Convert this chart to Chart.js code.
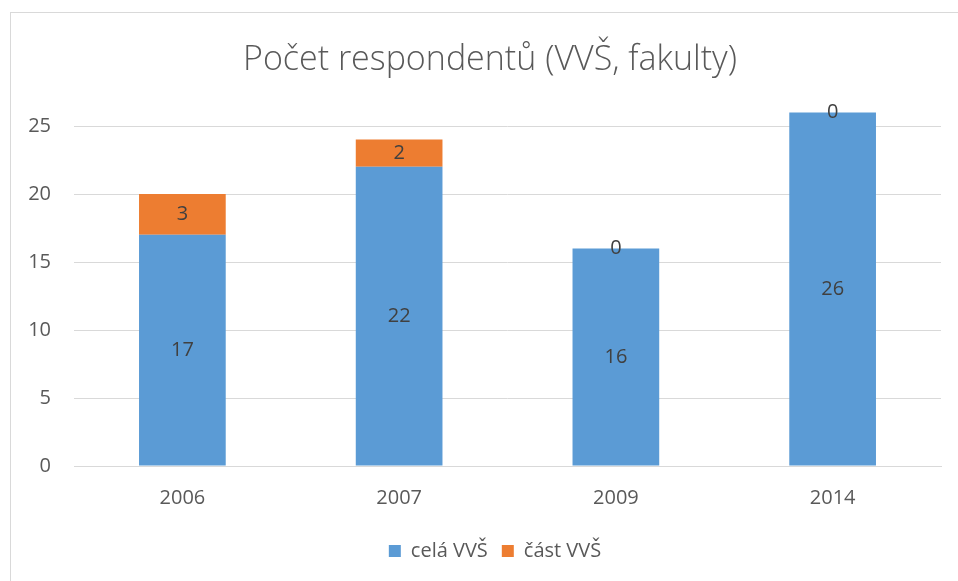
<!DOCTYPE html>
<html>
<head>
<meta charset="utf-8">
<script src="https://cdn.jsdelivr.net/npm/chart.js@4"></script>
<style>
    html, body { margin: 0; padding: 0; background: #fff; }
    #wrap { width: 958px; height: 581px; }
</style>
</head>
<body>
<div id="wrap"><canvas id="respChart" width="958" height="581"></canvas></div>
<script>
// data
const years = ['2006', '2007', '2009', '2014'];
const celaVVS = [17, 22, 16, 26];
const castVVS = [3, 2, 0, 0];
const yTicks = [0, 5, 10, 15, 20, 25];

const colors = {
    blue: '#5B9BD5',
    orange: '#ED7D31',
    grid: '#D9D9D9',
    text: '#595959',
    label: '#404040'
};
const fontFamily = '"Open Sans", Lato, sans-serif';

// thin frame round the chart, like the Excel chart border
const framePlugin = {
    id: 'frame',
    beforeDraw: function(chart) {
        const ctx = chart.ctx;
        ctx.save();
        ctx.fillStyle = '#fff';
        ctx.fillRect(0, 0, chart.width, chart.height);
        ctx.strokeStyle = '#D9D9D9';
        ctx.lineWidth = 1;
        ctx.strokeRect(10.5, 12.5, chart.width + 20, chart.height + 20);
        ctx.restore();
    }
};

// Excel centres title and legend on the frame, not on the whole canvas
const centerBlocks = {
    id: 'centerBlocks',
    afterLayout: function(chart) {
        if (chart.titleBlock) chart.titleBlock.left = 39;
        if (chart.legend) chart.legend.left = 49;
    }
};

// value labels centred in each bar segment
const valueLabels = {
    id: 'valueLabels',
    afterDatasetsDraw: function(chart) {
        const ctx = chart.ctx;
        ctx.save();
        ctx.font = '20px ' + fontFamily;
        ctx.fillStyle = colors.label;
        ctx.textAlign = 'center';
        ctx.textBaseline = 'middle';
        chart.data.datasets.forEach((ds, i) => {
            const meta = chart.getDatasetMeta(i);
            meta.data.forEach((bar, j) => {
                const p = bar.getProps(['x', 'y', 'base'], true);
                ctx.fillText(String(ds.data[j]), p.x, (p.y + p.base) / 2);
            });
        });
        ctx.restore();
    }
};

new Chart(document.getElementById('respChart'), {
    type: 'bar',
    data: {
        labels: years,
        datasets: [
            { label: 'celá VVŠ', data: celaVVS, backgroundColor: colors.blue, barPercentage: 0.4, categoryPercentage: 1 },
            { label: 'část VVŠ', data: castVVS, backgroundColor: colors.orange, barPercentage: 0.4, categoryPercentage: 1 }
        ]
    },
    options: {
        responsive: false,
        animation: false,
        layout: { padding: { top: 12, right: 17, bottom: 10, left: 0 } },
        plugins: {
            title: {
                display: true,
                text: 'Počet respondentů (VVŠ, fakulty)',
                color: colors.text,
                font: { family: fontFamily, size: 34, weight: '300' },
                padding: { top: 28, bottom: 18 }
            },
            legend: {
                position: 'bottom',
                labels: {
                    color: colors.text,
                    font: { family: fontFamily, size: 20 },
                    boxWidth: 12,
                    boxHeight: 12,
                    padding: 14
                }
            },
            tooltip: { enabled: false }
        },
        scales: {
            x: {
                stacked: true,
                grid: { display: false, drawTicks: false },
                border: { color: colors.grid },
                ticks: { color: colors.text, font: { family: fontFamily, size: 20 }, padding: 20 },
                afterFit: function(scale) { scale.height = 61; }
            },
            y: {
                stacked: true,
                min: 0,
                max: 27,
                afterBuildTicks: function(scale) {
                    scale.ticks = yTicks.map(v => ({ value: v }));
                },
                grid: { color: colors.grid, drawTicks: false },
                border: { display: false },
                ticks: { color: colors.text, font: { family: fontFamily, size: 20 }, padding: 23 },
                afterFit: function(scale) { scale.width = 74; }
            }
        }
    },
    plugins: [framePlugin, centerBlocks, valueLabels]
});
</script>
</body>
</html>
